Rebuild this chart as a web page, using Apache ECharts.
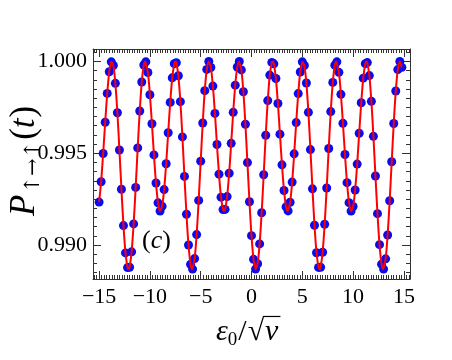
<!DOCTYPE html>
<html><head><meta charset="utf-8">
<script src="https://cdn.jsdelivr.net/npm/echarts@6/dist/echarts.min.js"></script>
<style>html,body{margin:0;padding:0;background:#fff}#c{width:452px;height:360px}</style>
</head><body><div id="c"></div>
<script>
// ---- data ----
const dotX = [-15.0,-14.8,-14.6,-14.4,-14.2,-14.0,-13.8,-13.6,-13.4,-13.2,-13.0,-12.8,-12.6,-12.4,-12.2,-12.0,-11.8,-11.6,-11.4,-11.2,-11.0,-10.8,-10.6,-10.4,-10.2,-10.0,-9.8,-9.6,-9.4,-9.2,-9.0,-8.8,-8.6,-8.4,-8.2,-8.0,-7.8,-7.6,-7.4,-7.2,-7.0,-6.8,-6.6,-6.4,-6.2,-6.0,-5.8,-5.6,-5.4,-5.2,-5.0,-4.8,-4.6,-4.4,-4.2,-4.0,-3.8,-3.6,-3.4,-3.2,-3.0,-2.8,-2.6,-2.4,-2.2,-2.0,-1.8,-1.6,-1.4,-1.2,-1.0,-0.8,-0.6,-0.4,-0.2,0.0,0.2,0.4,0.6,0.8,1.0,1.2,1.4,1.6,1.8,2.0,2.2,2.4,2.6,2.8,3.0,3.2,3.4,3.6,3.8,4.0,4.2,4.4,4.6,4.8,5.0,5.2,5.4,5.6,5.8,6.0,6.2,6.4,6.6,6.8,7.0,7.2,7.4,7.6,7.8,8.0,8.2,8.4,8.6,8.8,9.0,9.2,9.4,9.6,9.8,10.0,10.2,10.4,10.6,10.8,11.0,11.2,11.4,11.6,11.8,12.0,12.2,12.4,12.6,12.8,13.0,13.2,13.4,13.6,13.8,14.0,14.2,14.4,14.6,14.8];
const dotY = [0.99234,0.99345,0.99499,0.99669,0.99826,0.99944,0.99998,0.99978,0.99881,0.99721,0.99518,0.99304,0.99106,0.98957,0.98877,0.98879,0.98963,0.99115,0.99314,0.99529,0.99730,0.99888,0.99981,0.99998,0.99940,0.99819,0.99661,0.99491,0.99338,0.99230,0.99185,0.99211,0.99302,0.99443,0.99612,0.99777,0.99911,0.99988,0.99993,0.99922,0.99781,0.99589,0.99374,0.99168,0.99000,0.98895,0.98869,0.98926,0.99057,0.99243,0.99457,0.99665,0.99841,0.99957,1.00000,0.99967,0.99866,0.99717,0.99548,0.99386,0.99261,0.99193,0.99194,0.99264,0.99391,0.99554,0.99723,0.99871,0.99970,1.00000,0.99954,0.99835,0.99658,0.99449,0.99236,0.99051,0.98922,0.98869,0.98898,0.99006,0.99176,0.99383,0.99598,0.99787,0.99926,0.99995,0.99987,0.99907,0.99771,0.99604,0.99437,0.99297,0.99208,0.99186,0.99233,0.99343,0.99497,0.99667,0.99825,0.99943,0.99998,0.99978,0.99883,0.99723,0.99520,0.99306,0.99108,0.98958,0.98878,0.98879,0.98961,0.99113,0.99311,0.99526,0.99727,0.99886,0.99980,0.99998,0.99941,0.99821,0.99663,0.99493,0.99340,0.99231,0.99185,0.99210,0.99300,0.99441,0.99609,0.99775,0.99909,0.99988,0.99994,0.99923,0.99783,0.99592,0.99376,0.99171,0.99002,0.98896,0.98869,0.98925,0.99055,0.99241,0.99454,0.99662,0.99839,0.99956,1.00000,0.99968];
// turning points of the red curve
const extremaX = [-13.756,-12.107,-10.458,-8.973,-7.488,-5.840,-4.191,-2.706,-1.219,0.430,2.079,3.564,5.049,6.698,8.346,9.831,11.316,12.965,14.614];
const extremaY = [1.00000,0.98868,1.00000,0.99185,1.00000,0.98868,1.00000,0.99185,1.00000,0.98868,1.00000,0.99185,1.00000,0.98868,1.00000,0.99185,1.00000,0.98868,1.00000];
const xTickValues = [-15,-10,-5,0,5,10,15];
const xTickLabels = ['\u221215','\u221210','\u22125','0','5','10','15'];
const yTickValues = [0.990,0.995,1.000];
const yTickLabels = ['0.990','0.995','1.000'];

// ---- chart ----
const FAM = 'Liberation Serif';
const FONT = '"Liberation Serif", "Times New Roman", "DejaVu Serif", serif';
const AFONT = '"DejaVu Serif", serif';
const XMIN = -15.6, XMAX = 15.6, YMIN = 0.98815, YMAX = 1.00068;
const xMinor = []; for (let k = -62; k <= 62; k++) { const v = k * 0.25; if (v > XMIN && v < XMAX && k % 20 !== 0) xMinor.push(v); }
const yMinor = []; for (let k = 1976; k <= 2001; k++) { const v = k * 0.0005; if (v > YMIN && v < YMAX && k % 10 !== 0) yMinor.push(+v.toFixed(5)); }

const dots = dotX.map((x, i) => [x, dotY[i]]);
const curve = dots.concat(extremaX.map((x, i) => [x, extremaY[i]])).sort((a, b) => a[0] - b[0]);

function lab(values, labels) {
  return v => { const i = values.findIndex(t => Math.abs(t - v) < 1e-9); return i >= 0 ? labels[i] : ''; };
}
const AX = '#333';
const gridBox = { left: 93, right: 42, top: 49, bottom: 81, outerBoundsMode: 'none' };
function xAx(g, pos, ticks, len, line, labels) {
  return { gridIndex: g, type: 'value', min: XMIN, max: XMAX, position: pos,
    axisLine: { show: line, onZero: false, lineStyle: { color: AX, width: 1 } },
    axisTick: { show: true, inside: true, length: len, customValues: ticks, lineStyle: { color: AX, width: 1 } },
    axisLabel: labels ? { show: true, customValues: xTickValues, formatter: lab(xTickValues, xTickLabels), margin: 7, fontFamily: FONT, fontSize: 22, color: '#000' } : { show: false },
    splitLine: { show: false } };
}
function yAx(g, pos, ticks, len, line, labels) {
  return { gridIndex: g, type: 'value', min: YMIN, max: YMAX, position: pos,
    axisLine: { show: line, onZero: false, lineStyle: { color: AX, width: 1 } },
    axisTick: { show: true, inside: true, length: len, customValues: ticks, lineStyle: { color: AX, width: 1 } },
    axisLabel: labels ? { show: true, customValues: yTickValues, formatter: lab(yTickValues, yTickLabels), margin: 6, fontFamily: FONT, fontSize: 22, color: '#000' } : { show: false },
    splitLine: { show: false } };
}

// text measuring for the composed axis titles
const mctx = document.createElement('canvas').getContext('2d');
mctx.textBaseline = 'middle';
function meas(txt, size, italic, fam) { mctx.font = (italic ? 'italic ' : '') + size + 'px "' + (fam || FAM) + '"'; return mctx.measureText(txt); }
function T(txt, x, y, size, italic, font) {
  return { type: 'text', x: x, y: y, style: { text: txt, fontFamily: font || FONT, fontSize: size, fontStyle: italic ? 'italic' : 'normal', fill: '#000', align: 'left', verticalAlign: 'middle' } };
}

// y title: P_{↑→↑}(t), rotated
const yM = 35, yS = 21;
const yParts = [];
let lx = 0;
yParts.push(T('P', lx, 0, yM, true)); lx += meas('P', yM, true).width + 1;
const arrows = ['\u2191', '\u2192', '\u2191'];
arrows.forEach(a => { yParts.push(T(a, lx, 9, yS, false, AFONT)); lx += meas(a, yS, false, 'DejaVu Serif').width; });
lx += 1;
yParts.push(T('(', lx, 0, yM, false)); lx += meas('(', yM, false).width;
yParts.push(T('t', lx, 0, yM, true)); lx += meas('t', yM, true).width + 1;
yParts.push(T(')', lx, 0, yM, false));

// x title: ε0/√v
const xM = 30, xS = 19, ym = 332;
const xParts = [];
let px = 216;
xParts.push(T('\u03b5', px, ym, xM, true)); px += meas('\u03b5', xM, true).width;
xParts.push(T('0', px, ym + 8, xS, false)); px += meas('0', xS, false).width + 1;
xParts.push(T('/', px, ym, xM, false)); px += meas('/', xM, false).width + 1;
const sq = meas('\u221a', xM, false);
xParts.push(T('\u221a', px, ym, xM, false)); px += sq.width;
const barStart = px - 1, barY = ym - sq.actualBoundingBoxAscent + 0.6;
px += 1;
xParts.push(T('v', px, ym, xM, true)); px += meas('v', xM, true).width;
xParts.push({ type: 'line', shape: { x1: barStart, y1: barY, x2: px + 2, y2: barY }, style: { stroke: '#000', lineWidth: 1.2 } });

const chart = echarts.init(document.getElementById('c'), null, { renderer: 'canvas' });
chart.setOption({
  animation: false,
  backgroundColor: '#fff',
  grid: [gridBox, gridBox, gridBox, gridBox],
  xAxis: [xAx(0, 'bottom', xTickValues, 8, true, true), xAx(1, 'top', xTickValues, 8, true, false),
          xAx(2, 'bottom', xMinor, 4, false, false), xAx(3, 'top', xMinor, 4, false, false)],
  yAxis: [yAx(0, 'left', yTickValues, 8, true, true), yAx(1, 'right', yTickValues, 8, true, false),
          yAx(2, 'left', yMinor, 4, false, false), yAx(3, 'right', yMinor, 4, false, false)],
  series: [
    { type: 'scatter', xAxisIndex: 0, yAxisIndex: 0, data: dots, symbol: 'circle', symbolSize: 9,
      itemStyle: { color: '#0a0af0', opacity: 1 }, z: 2 },
    { type: 'line', xAxisIndex: 0, yAxisIndex: 0, data: curve, showSymbol: false, smooth: 0.3,
      lineStyle: { color: '#ff0000', width: 2 }, z: 3 }
  ],
  graphic: [
    { type: 'text', left: 142, top: 228, style: { text: '{n|(}{i|c}{n|)}', rich: {
        n: { fontFamily: FONT, fontSize: 26, fill: '#000' }, i: { fontFamily: FONT, fontSize: 26, fontStyle: 'italic', fill: '#000' } } } },
    { type: 'group', x: 25, y: 216, rotation: Math.PI / 2, children: yParts },
    { type: 'group', x: 0, y: 0, children: xParts }
  ]
});
</script></body></html>
